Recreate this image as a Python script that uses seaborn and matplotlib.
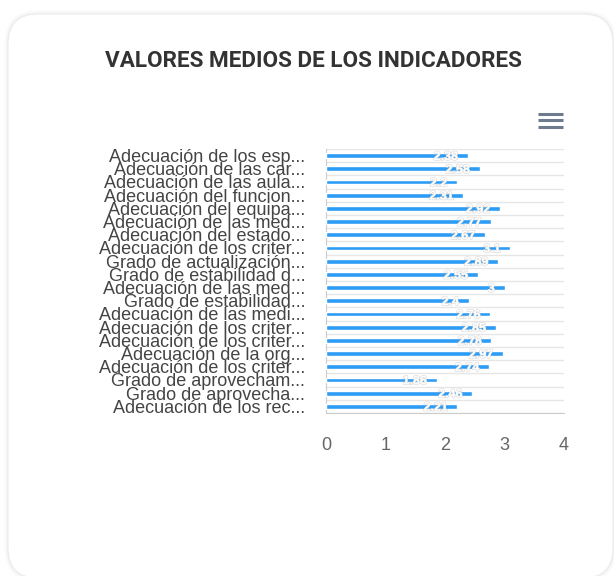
import pandas as pd
import matplotlib
matplotlib.use('Agg')
import matplotlib.pyplot as plt
import matplotlib.patheffects as pe
from matplotlib.patches import FancyBboxPatch
from matplotlib.transforms import IdentityTransform
import seaborn as sns

# ---------------------------------------------------------
# datos
# ---------------------------------------------------------
indicadores = [
    'Adecuación de los esp...',
    'Adecuación de las car...',
    'Adecuación de las aula...',
    'Adecuación del funcion...',
    'Adecuación del equipa...',
    'Adecuación de las med...',
    'Adecuación del estado...',
    'Adecuación de los criter...',
    'Grado de actualización...',
    'Grado de estabilidad d...',
    'Adecuación de las med...',
    'Grado de estabilidad...',
    'Adecuación de las medi...',
    'Adecuación de los criter...',
    'Adecuación de los criter...',
    'Adecuación de la org...',
    'Adecuación de los criter...',
    'Grado de aprovecham...',
    'Grado de aprovecha...',
    'Adecuación de los rec...',
]
valores = [2.38, 2.58, 2.20, 2.31, 2.92, 2.77, 2.67, 3.10, 2.89, 2.55,
           3.00, 2.40, 2.76, 2.85, 2.78, 2.97, 2.74, 1.86, 2.46, 2.21]
xticks = [0, 1, 2, 3, 4]

titulo = 'VALORES MEDIOS DE LOS INDICADORES'
color_barra = '#2d9cf5'

# las etiquetas se repiten, asi que uso una clave unica por fila
df = pd.DataFrame({'clave': [str(i) for i in range(len(valores))], 'valor': valores})

sns.set_style('white')
plt.rcParams['font.family'] = ['Liberation Sans', 'DejaVu Sans']

W, H = 614, 576
fig = plt.figure(figsize=(W / 100, H / 100), dpi=100)
fig.patch.set_facecolor('white')

# tarjeta con sombra (por detras de todo)
px = IdentityTransform()
for grow, a in [(4, 0.025), (2.5, 0.04), (1.2, 0.07)]:
    fig.patches.append(FancyBboxPatch((8 - grow, H - 578 - grow), 605 + 2 * grow, 564 + 2 * grow,
                                      boxstyle='round,pad=0,rounding_size=%d' % (30 + grow),
                                      transform=px, facecolor='#9aa0a8', edgecolor='none', alpha=a, zorder=-3))
fig.patches.append(FancyBboxPatch((8, H - 578), 605, 564, boxstyle='round,pad=0,rounding_size=30',
                                  transform=px, facecolor='white', edgecolor='#ececec', linewidth=0.8, zorder=-2))

fig.text(313 / W, 1 - 61 / H, titulo, ha='center', va='center', fontsize=16.2, fontweight='bold',
         color='#333333', family=['Roboto', 'DejaVu Sans'])

# icono de menu
for yy in [113.5, 120, 126.5]:
    fig.add_artist(plt.Line2D([538 / W, 563 / W], [1 - yy / H, 1 - yy / H], transform=fig.transFigure,
                              color='#6e7b8e', linewidth=2.2, solid_capstyle='butt'))

ax = fig.add_axes([326 / W, 1 - 413 / H, 238 / W, 264 / H])
ax.set_zorder(5)
ax.set_facecolor('none')
sns.barplot(data=df, x='valor', y='clave', orient='h', color=color_barra, width=0.36,
            saturation=1, ax=ax, zorder=3)

ax.set_xlim(0, 4)
ax.set_ylim(len(valores) - 0.5, -0.5)
ax.set_xticks(xticks)
ax.set_xticklabels([str(t) for t in xticks], fontsize=13, color='#666666')
ax.set_yticks(range(len(indicadores)))
ax.set_yticklabels(indicadores, fontsize=13, color='#444444')
ax.tick_params(axis='y', length=0, pad=15)
ax.tick_params(axis='x', length=10, width=1, color='#cccccc', pad=7, direction='out')
ax.set_xlabel('')
ax.set_ylabel('')

# lineas de separacion entre categorias
for k in range(len(valores) + 1):
    ax.axhline(k - 0.5, color='#e6e6e6', linewidth=1, zorder=1)
for s in ['top', 'right']:
    ax.spines[s].set_visible(False)
ax.spines['left'].set_color('#cccccc')
ax.spines['bottom'].set_color('#cccccc')

# etiquetas de datos (blancas, casi invisibles)
for i, v in enumerate(valores):
    txt = ('%.2f' % v).rstrip('0').rstrip('.')
    ax.annotate(txt, (v, i), xytext=(-7, -1), textcoords='offset points', ha='right', va='center',
                fontsize=9, fontweight='bold', color='white', zorder=5,
                path_effects=[pe.withStroke(linewidth=0.8, foreground='#d8d8d8')])

fig.savefig('out.png', dpi=100, facecolor='white')
